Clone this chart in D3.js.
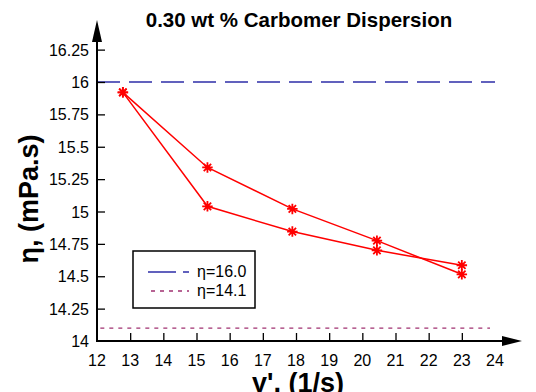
<!DOCTYPE html>
<html><head><meta charset="utf-8">
<script src="https://cdn.jsdelivr.net/npm/d3@7"></script>
<style>body{margin:0;background:#fff}svg{display:block;font-family:"Liberation Sans",Arial,sans-serif}</style>
</head><body>
<script>
const shearRates = [12.78, 15.33, 17.89, 20.44, 23.0];
const viscosityUp = [15.92, 15.34, 15.02, 14.775, 14.515];
const viscosityDown = [15.92, 15.04, 14.845, 14.70, 14.585];
const refHigh = 16.0;
const refLow = 14.1;
const xTicks = [12,13,14,15,16,17,18,19,20,21,22,23,24];
const yTicks = [14,14.25,14.5,14.75,15,15.25,15.5,15.75,16,16.25];
const legendLabels = ["η=16.0","η=14.1"];

const W=536,H=392;
const svg=d3.select("body").append("svg").attr("width",W).attr("height",H);
const x=d3.scaleLinear().domain([12,24]).range([97,495]);
const y=d3.scaleLinear().domain([14,16]).range([341,82]);

// title
svg.append("text").attr("x",299).attr("y",27).attr("text-anchor","middle")
  .attr("font-size",20.5).attr("font-weight","bold").text("0.30 wt % Carbomer Dispersion");

// reference lines
svg.append("line").attr("x1",x(12)).attr("x2",x(24)).attr("y1",y(refHigh)).attr("y2",y(refHigh))
  .attr("stroke","#2e2ea8").attr("stroke-width",1.3).attr("stroke-dasharray","23,9");
svg.append("line").attr("x1",x(12.1)).attr("x2",x(23.85)).attr("y1",y(refLow)).attr("y2",y(refLow))
  .attr("stroke","#a03070").attr("stroke-width",1.3).attr("stroke-dasharray","4,5");

// axes
const gx=svg.append("g").attr("transform",`translate(0,${y(14)})`)
  .call(d3.axisTop(x).tickValues(xTicks.filter(v=>v>12&&v<24)).tickSize(8).tickFormat(""));
gx.select(".domain").remove();
gx.selectAll("line").attr("stroke","#000").attr("stroke-width",1.3);
svg.selectAll(".xl").data(xTicks).enter().append("text").attr("class","xl")
  .attr("x",d=>x(d)).attr("y",y(14)+25).attr("text-anchor","middle").attr("font-size",16).text(d=>d);

const gy=svg.append("g").attr("transform",`translate(${x(12)},0)`)
  .call(d3.axisRight(y).tickValues(yTicks.filter(v=>v>14)).tickSize(8).tickFormat(""));
gy.select(".domain").remove();
gy.selectAll("line").attr("stroke","#000").attr("stroke-width",1.3);
svg.selectAll(".yl").data(yTicks).enter().append("text").attr("class","yl")
  .attr("x",89).attr("y",d=>y(d)+6).attr("text-anchor","end").attr("font-size",16).text(d=>d);

// axis lines with arrows
svg.append("line").attr("x1",x(12)).attr("x2",x(12)).attr("y1",y(14)+1).attr("y2",38).attr("stroke","#000").attr("stroke-width",2);
svg.append("path").attr("d",`M${x(12)},20 L${x(12)-5},42 L${x(12)+5},42 Z`).attr("fill","#000");
svg.append("line").attr("x1",x(12)-1).attr("x2",506).attr("y1",y(14)).attr("y2",y(14)).attr("stroke","#000").attr("stroke-width",2);
svg.append("path").attr("d",`M522,${y(14)} L502,${y(14)-5} L502,${y(14)+5} Z`).attr("fill","#000");

// series
const line=d3.line().x((d,i)=>x(shearRates[i])).y(d=>y(d));
[viscosityUp,viscosityDown].forEach(s=>{
  svg.append("path").attr("d",line(s)).attr("fill","none").attr("stroke","#ff0000").attr("stroke-width",1.5);
});
const star=d3.symbol().type({draw(ctx,size){const r=Math.sqrt(size)/2;for(let k=0;k<4;k++){const a=k*Math.PI/4;ctx.moveTo(-r*Math.cos(a),-r*Math.sin(a));ctx.lineTo(r*Math.cos(a),r*Math.sin(a));}}}).size(110);
[viscosityUp,viscosityDown].forEach(s=>{
  svg.selectAll(null).data(s).enter().append("path")
    .attr("transform",(d,i)=>`translate(${x(shearRates[i])},${y(d)})`)
    .attr("d",star).attr("stroke","#ff0000").attr("stroke-width",1.8).attr("fill","none");
});

// legend
svg.append("rect").attr("x",133).attr("y",251).attr("width",122).attr("height",57)
  .attr("fill","#fff").attr("stroke","#000").attr("stroke-width",1.5);
svg.append("line").attr("x1",148).attr("x2",189).attr("y1",272).attr("y2",272)
  .attr("stroke","#2e2ea8").attr("stroke-width",1.3).attr("stroke-dasharray","28,7");
svg.append("line").attr("x1",151).attr("x2",189).attr("y1",291).attr("y2",291)
  .attr("stroke","#a03070").attr("stroke-width",1.3).attr("stroke-dasharray","4,5");
legendLabels.forEach((t,i)=>svg.append("text").attr("x",197).attr("y",277+i*19).attr("font-size",16).text(t));

// axis labels
svg.append("text").attr("x",298).attr("y",392).attr("text-anchor","middle").attr("font-size",27).attr("font-weight","bold").text("γ', (1/s)");
svg.append("text").attr("transform","translate(38,199) rotate(-90)").attr("text-anchor","middle").attr("font-size",27).attr("font-weight","bold").text("η, (mPa.s)");
</script>
</body></html>
